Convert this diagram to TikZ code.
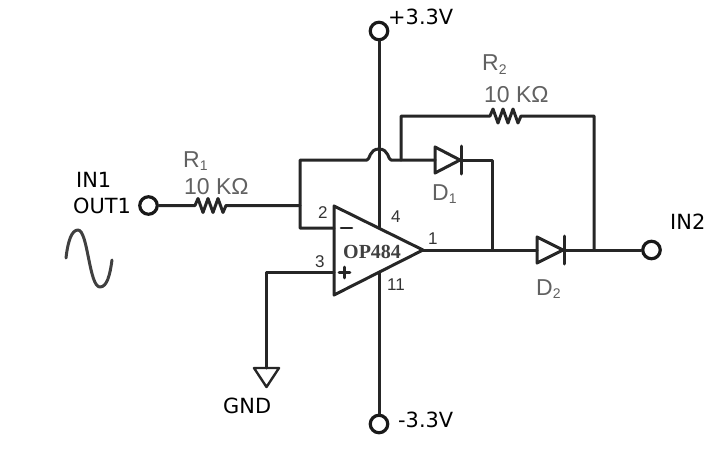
\documentclass[tikz,border=0pt]{standalone}
\usepackage{fontspec}
\setmainfont{DejaVu Sans}
\newfontfamily\grayfont{Liberation Sans}
\newfontfamily\opfont{Liberation Serif}
\tikzset{
  wire/.style={draw=black!85,line width=3pt,line join=round,line cap=round},
  term/.style={circle,draw=black!90,line width=3.2pt,fill=white,minimum size=17.5pt,inner sep=0pt},
  lab/.style={inner sep=0pt,text=black,font=\fontsize{20.9}{22}\selectfont},
  glab/.style={inner sep=0pt,text=black!62,font=\grayfont\fontsize{23}{24}\selectfont},
  pin/.style={inner sep=0pt,text=black!80,font=\grayfont\fontsize{17}{18}\selectfont},
}
\newcommand{\resz}{-- ++(3,0) -- ++(3,-7) -- ++(5,14) -- ++(5,-14) -- ++(5,14) -- ++(5,-14) -- ++(5,14) -- ++(3,-7) -- ++(2,0)}
\newcommand{\subn}[2]{\raisebox{#1}{\fontsize{14}{14}\selectfont #2}}
\begin{document}
\begin{tikzpicture}[x=1pt,y=-1pt]
\useasboundingbox (0,0) rectangle (721,453);
% junctions
\coordinate (a) at (300,205.5);
\coordinate (fbl) at (300,160);
\coordinate (fbj) at (401,160);
\coordinate (inv) at (334,228);
\coordinate (ninv) at (334,272);
\coordinate (ntop) at (401,116);
\coordinate (rtop) at (594,116);
\coordinate (rbot) at (594,250);
\coordinate (d1r) at (492,160);
\coordinate (d1b) at (492,250);
\coordinate (tip) at (423,250);
\coordinate (pu) at (379,228);
\coordinate (pd) at (379,272);
\coordinate (gl) at (266,272);
\coordinate (gt) at (266,368);
% terminals
\node[term] (vp) at (379,31) {};
\node[term] (vn) at (379,424) {};
\node[term] (in1) at (148.5,205.5) {};
\node[term] (in2) at (651.5,250) {};
% supply
\draw[wire] (vp) -- (pu);
\draw[wire] (pd) -- (vn);
% opamp
\draw[wire] (334,206) -- (423,250) -- (334,295) -- cycle;
\draw[wire,line width=2.6pt] (341,228) -- (352,228);
\draw[wire,line width=2.6pt] (339,272.5) -- (350,272.5) (344.5,267) -- (344.5,278);
% R1
\draw[wire] (in1) -- (192,205.5) \resz -- (a);
% feedback
\draw[wire] (inv) -- (300,228) -- (fbl) -- (367,160) .. controls (370,160) and (369,149) .. (379,149) .. controls (389,149) and (388,160) .. (391,160) -- (435,160);
\draw[wire] (fbj) -- (ntop) -- (487,116) \resz -- (rtop) -- (rbot);
% D1
\draw[wire] (435,147) -- (460,160) -- (435,173) -- cycle;
\draw[wire] (461,146) -- (461,174);
\draw[wire] (461,160) -- (d1r) -- (d1b);
% output, D2
\draw[wire] (tip) -- (537,250);
\draw[wire] (537,237) -- (563,250) -- (537,263) -- cycle;
\draw[wire] (564,236) -- (564,264);
\draw[wire] (564,250) -- (in2);
% GND
\draw[wire] (ninv) -- (gl) -- (gt);
\draw[black!85,line width=2.4pt,line join=round] (254,368) -- (279,368) -- (266.5,387) -- cycle;
% sine
\draw[wire,black!75] (66,258) .. controls (68,240) and (72,230) .. (78,230) .. controls (88,230) and (89,287) .. (100,287) .. controls (107,287) and (110,275) .. (112,260);
% labels
\node[lab,anchor=base west] (tvp) at (388,24) {+3.3V};
\node[lab,anchor=base west] (tvn) at (398,427) {-3.3V};
\node[lab,anchor=base west] (tin1) at (76,187) {IN1};
\node[lab,anchor=base west] (tout1) at (73,213) {OUT1};
\node[lab,anchor=base west] (tin2) at (670,229) {IN2};
\node[lab,anchor=base west] (tgnd) at (223,413) {GND};
\node[glab,anchor=base west] (tr1) at (183,167) {R\subn{-3pt}{1}};
\node[glab,anchor=base west] (tr1v) at (184,194) {10 KΩ};
\node[glab,anchor=base west] (tr2) at (482,70) {R\subn{-4pt}{2}};
\node[glab,anchor=base west] (tr2v) at (484,102) {10 KΩ};
\node[glab,anchor=base west] (td1) at (432,200) {D\subn{-3pt}{1}};
\node[glab,anchor=base west] (td2) at (536,295) {D\subn{-3pt}{2}};
\node[anchor=base west,inner sep=0pt,text=black!75,font=\opfont\bfseries\fontsize{20}{21}\selectfont] (top) at (343,258) {OP484};
\node[pin,anchor=base west] (p2) at (318,218) {2};
\node[pin,anchor=base west] (p3) at (315,267) {3};
\node[pin,anchor=base west] (p4) at (391,222) {4};
\node[pin,anchor=base west] (p1) at (428,244) {1};
\node[pin,anchor=base west] (p11) at (387,290) {11};
\end{tikzpicture}
\end{document}
